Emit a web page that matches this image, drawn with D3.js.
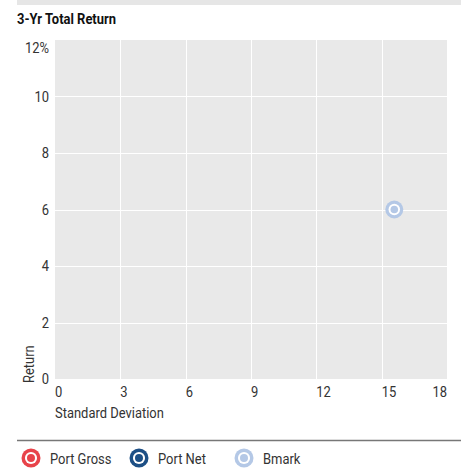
<!DOCTYPE html>
<html>
<head>
<meta charset="utf-8">
<script src="https://cdn.jsdelivr.net/npm/d3@7"></script>
<style>
  body { margin: 0; background: #fff; }
  text { font-family: Roboto, "DejaVu Sans Condensed", sans-serif; fill: #333; }
</style>
</head>
<body>
<div id="chart"></div>
<script>
// Chart data
var seriesNames = ["Port Gross", "Port Net", "Bmark"];
var seriesColors = ["#e8434a", "#1d4f85", "#b4c8e6"];
var stdDev = [null, null, 15.58];
var returns = [null, null, 6.0];
var xTicks = [0, 3, 6, 9, 12, 15, 18];
var yTicks = [0, 2, 4, 6, 8, 10, 12];

var svgWidth = 468;
var svgHeight = 468;

var margin = { top: 40, right: 21, bottom: 89, left: 55 };
var width = svgWidth - margin.left - margin.right;
var height = svgHeight - margin.top - margin.bottom;

var svg = d3.select("#chart")
  .append("svg")
  .attr("width", svgWidth)
  .attr("height", svgHeight);

// no condensed font installed, so squeeze Roboto horizontally
// so that "Standard Deviation" comes out about 109px wide like the original
var probe = svg.append("text").attr("font-size", "15px").text("Standard Deviation");
var squeeze = 109 / probe.node().getComputedTextLength();
probe.remove();

function label(parent, x, y, str, opts) {
  opts = opts || {};
  var g = parent.append("g")
    .attr("transform", `translate(${x}, ${y}) ${opts.rotate ? "rotate(-90)" : ""} scale(${squeeze}, 1)`);
  return g.append("text")
    .attr("text-anchor", opts.anchor || "start")
    .attr("font-size", (opts.size || 15) + "px")
    .attr("font-weight", opts.weight || "normal")
    .text(str);
}

// top grey strip and title
svg.append("rect")
  .attr("x", 17).attr("y", 0)
  .attr("width", 444).attr("height", 5)
  .attr("fill", "#e6e6e6");

label(svg, 17, 23.5, "3-Yr Total Return", { size: 15, weight: "bold" })
  .style("fill", "#111");

var chartGroup = svg.append("g")
  .attr("transform", `translate(${margin.left}, ${margin.top})`);

var xScale = d3.scaleLinear().domain([0, 18]).range([0, width]);
var yScale = d3.scaleLinear().domain([0, 12]).range([height, 0]);

// plot background
chartGroup.append("rect")
  .attr("width", width)
  .attr("height", height)
  .attr("fill", "#e9e9e9");

// grid lines
chartGroup.append("g")
  .selectAll("line")
  .data(xTicks.slice(1, -1))
  .enter()
  .append("line")
  .attr("x1", d => Math.round(xScale(d)) + 0.5)
  .attr("x2", d => Math.round(xScale(d)) + 0.5)
  .attr("y1", 0)
  .attr("y2", height)
  .attr("stroke", "#fff")
  .attr("stroke-width", 1);

chartGroup.append("g")
  .selectAll("line")
  .data(yTicks.slice(1, -1))
  .enter()
  .append("line")
  .attr("y1", d => Math.round(yScale(d)) + 0.5)
  .attr("y2", d => Math.round(yScale(d)) + 0.5)
  .attr("x1", 0)
  .attr("x2", width)
  .attr("stroke", "#fff")
  .attr("stroke-width", 1);

// y axis labels
yTicks.forEach(function(d) {
  label(chartGroup, -6, d === 12 ? yScale(d) + 13 : yScale(d) + 5,
    d === 12 ? d + "%" : d, { anchor: "end" });
});

// x axis labels
xTicks.forEach(function(d) {
  label(chartGroup, xScale(d), height + 18, d, { anchor: d === 18 ? "end" : "start" });
});

label(chartGroup, 0, height + 39, "Standard Deviation");
label(chartGroup, -21, height + 4, "Return", { rotate: true });

// points
function drawMarker(g, color, r) {
  g.append("circle").attr("r", r).attr("fill", color);
  g.append("circle").attr("r", r * 0.64).attr("fill", "#fff");
  g.append("circle").attr("r", r * 0.42).attr("fill", color);
}

seriesNames.forEach(function(name, i) {
  if (stdDev[i] == null || returns[i] == null) return;
  var g = chartGroup.append("g")
    .attr("transform", `translate(${xScale(stdDev[i])}, ${yScale(returns[i])})`);
  drawMarker(g, seriesColors[i], 9);
});

// legend
svg.append("line")
  .attr("x1", 17).attr("x2", 461)
  .attr("y1", 440.5).attr("y2", 440.5)
  .attr("stroke", "#777")
  .attr("stroke-width", 1.5);

var legendX = [31, 139, 244];
seriesNames.forEach(function(name, i) {
  var g = svg.append("g")
    .attr("transform", `translate(${legendX[i]}, 458)`);
  drawMarker(g, seriesColors[i], 9.5);
  label(svg, legendX[i] + 19, 463.5, name);
});
</script>
</body>
</html>
